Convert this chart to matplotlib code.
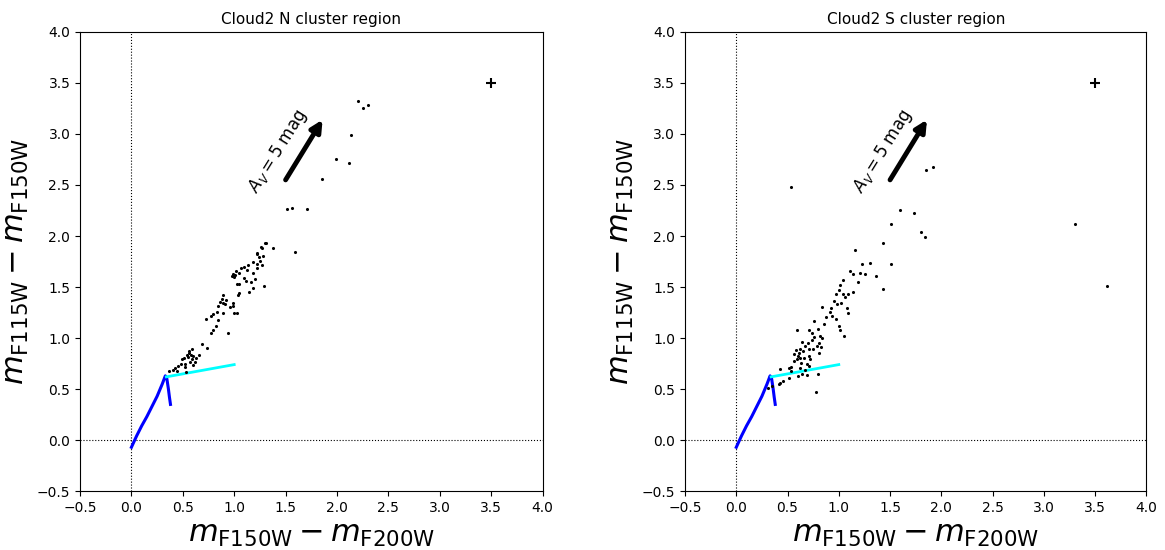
import numpy as np
import matplotlib
matplotlib.use('Agg')
import matplotlib.pyplot as plt

# ---- datos ----
titulos = ['Cloud2 N cluster region', 'Cloud2 S cluster region']

# region N
n_x = [2.20, 2.25, 2.30, 2.14, 1.99, 2.12, 1.85, 1.51, 1.56, 1.71, 1.30, 1.38, 1.59,
       1.26, 1.22, 1.24, 1.31, 1.27, 1.22, 1.28, 1.25, 1.18, 1.22, 1.13, 1.10, 1.07,
       1.22, 1.27, 1.02, 0.99, 1.00, 0.98, 1.05, 1.12, 1.18, 1.10, 1.11, 1.05, 1.03,
       1.29, 1.05, 1.04, 1.14, 1.18, 0.89, 0.88, 0.86, 0.84, 0.89, 0.91, 0.83, 0.89,
       0.99, 0.99, 1.00, 1.03, 0.79, 0.73, 0.77, 0.84, 0.82, 0.79, 0.77, 0.94, 0.69,
       0.74, 0.59, 0.56, 0.54, 0.58, 0.55, 0.51, 0.59, 0.49, 0.52, 0.57, 0.62, 0.60,
       0.66, 0.48, 0.45, 0.42, 0.40, 0.37, 0.44, 0.52, 0.53, 1.00, 1.01, 1.20, 1.16,
       0.92, 0.96, 0.60, 0.63, 0.56]
n_y = [3.32, 3.25, 3.28, 2.99, 2.75, 2.72, 2.56, 2.26, 2.27, 2.26, 1.93, 1.88, 1.84,
       1.89, 1.83, 1.79, 1.93, 1.88, 1.82, 1.80, 1.76, 1.75, 1.73, 1.72, 1.70, 1.69,
       1.69, 1.72, 1.66, 1.63, 1.62, 1.61, 1.64, 1.67, 1.64, 1.59, 1.56, 1.53, 1.53,
       1.51, 1.44, 1.42, 1.45, 1.49, 1.42, 1.38, 1.35, 1.31, 1.34, 1.33, 1.26, 1.25,
       1.34, 1.31, 1.25, 1.25, 1.24, 1.19, 1.22, 1.18, 1.12, 1.08, 1.05, 1.05, 0.94,
       0.90, 0.89, 0.85, 0.83, 0.83, 0.81, 0.80, 0.79, 0.79, 0.75, 0.77, 0.77, 0.74,
       0.83, 0.75, 0.73, 0.71, 0.69, 0.68, 0.68, 0.72, 0.67, 1.60, 1.62, 1.58, 1.55,
       1.37, 1.30, 0.82, 0.80, 0.87]

# region S
s_x = [1.85, 1.92, 1.60, 1.73, 1.80, 1.84, 3.30, 3.62, 0.53, 1.51, 1.43, 1.16, 1.23,
       1.30, 1.51, 1.36, 1.43, 1.11, 1.14, 1.21, 1.19, 1.26, 1.04, 1.01, 1.00, 1.04,
       1.14, 1.09, 1.06, 1.02, 0.97, 0.95, 0.98, 0.92, 0.91, 0.84, 0.88, 0.97, 1.08,
       1.09, 1.00, 1.01, 1.05, 0.76, 0.59, 0.71, 0.74, 0.80, 0.82, 0.84, 0.81, 0.79,
       0.83, 0.75, 0.81, 0.67, 0.64, 0.62, 0.65, 0.61, 0.60, 0.62, 0.59, 0.71, 0.71,
       0.72, 0.69, 0.71, 0.56, 0.56, 0.53, 0.51, 0.53, 0.43, 0.62, 0.67, 0.80, 0.64,
       0.69, 0.60, 0.51, 0.46, 0.43, 0.42, 0.31, 0.35, 0.78, 0.66, 0.63, 0.74, 0.86,
       0.93, 0.70, 0.58, 0.76]
s_y = [2.65, 2.68, 2.25, 2.23, 2.04, 1.99, 2.12, 1.51, 2.48, 2.12, 1.93, 1.86, 1.73,
       1.74, 1.73, 1.61, 1.48, 1.66, 1.63, 1.64, 1.55, 1.63, 1.57, 1.52, 1.47, 1.43,
       1.45, 1.43, 1.40, 1.34, 1.43, 1.36, 1.33, 1.29, 1.26, 1.30, 1.21, 1.19, 1.29,
       1.25, 1.12, 1.08, 1.02, 1.17, 1.08, 1.08, 1.05, 1.09, 1.02, 1.00, 0.95, 0.92,
       0.91, 0.89, 0.85, 0.92, 0.96, 0.89, 0.87, 0.85, 0.82, 0.80, 0.79, 0.89, 0.82,
       0.79, 0.75, 0.73, 0.84, 0.78, 0.72, 0.71, 0.68, 0.70, 0.71, 0.69, 0.65, 0.65,
       0.64, 0.63, 0.61, 0.58, 0.56, 0.55, 0.51, 0.53, 0.47, 0.80, 0.76, 0.98, 1.14,
       1.22, 0.95, 0.88, 1.01]

# isocrona (azul) y linea de enrojecimiento (cian)
iso_x = [0.00, 0.05, 0.10, 0.15, 0.20, 0.25, 0.30, 0.33, 0.345, 0.36, 0.37, 0.38]
iso_y = [-0.07, 0.04, 0.14, 0.23, 0.33, 0.43, 0.55, 0.63, 0.60, 0.50, 0.42, 0.35]
cian_x = [0.34, 1.00]
cian_y = [0.62, 0.74]

# vector de extincion A_V = 5 mag
flecha_ini = (1.50, 2.55)
flecha_fin = (1.86, 3.14)

datos = [(n_x, n_y), (s_x, s_y)]

# ---- figura ----
fig = plt.figure(figsize=(11.65, 5.5), dpi=100)
posiciones = [[0.0687, 0.107, 0.397, 0.835], [0.588, 0.107, 0.396, 0.835]]

for i, (xs, ys) in enumerate(datos):
    ax = fig.add_axes(posiciones[i])
    ax.axvline(0, color='k', ls=':', lw=0.8)
    ax.axhline(0, color='k', ls=':', lw=0.8)
    ax.scatter(xs, ys, s=5, color='k', zorder=3, linewidths=0)
    ax.plot(iso_x, iso_y, color='blue', lw=2.2)
    ax.plot(cian_x, cian_y, color='cyan', lw=2)
    ax.errorbar([3.5], [3.5], xerr=0.05, yerr=0.05, color='k', lw=1.5)
    ax.annotate('', xy=flecha_fin, xytext=flecha_ini,
                arrowprops=dict(arrowstyle='-|>', color='k', lw=3.5,
                                mutation_scale=17, shrinkA=0, shrinkB=0))
    ax.text(1.43, 2.83, r'$A_V = 5$ mag', rotation=58, fontsize=12,
            ha='center', va='center')
    ax.set_xlim(-0.5, 4.0)
    ax.set_ylim(-0.5, 4.0)
    ax.set_xticks(np.arange(-0.5, 4.01, 0.5))
    ax.set_yticks(np.arange(-0.5, 4.01, 0.5))
    ax.tick_params(labelsize=10)
    ax.set_title(titulos[i], fontsize=11)
    ax.set_xlabel(r'$m_{\rm F150W} - m_{\rm F200W}$', fontsize=22)
    ax.set_ylabel(r'$m_{\rm F115W} - m_{\rm F150W}$', fontsize=22)

fig.savefig('out.png', dpi=100)
